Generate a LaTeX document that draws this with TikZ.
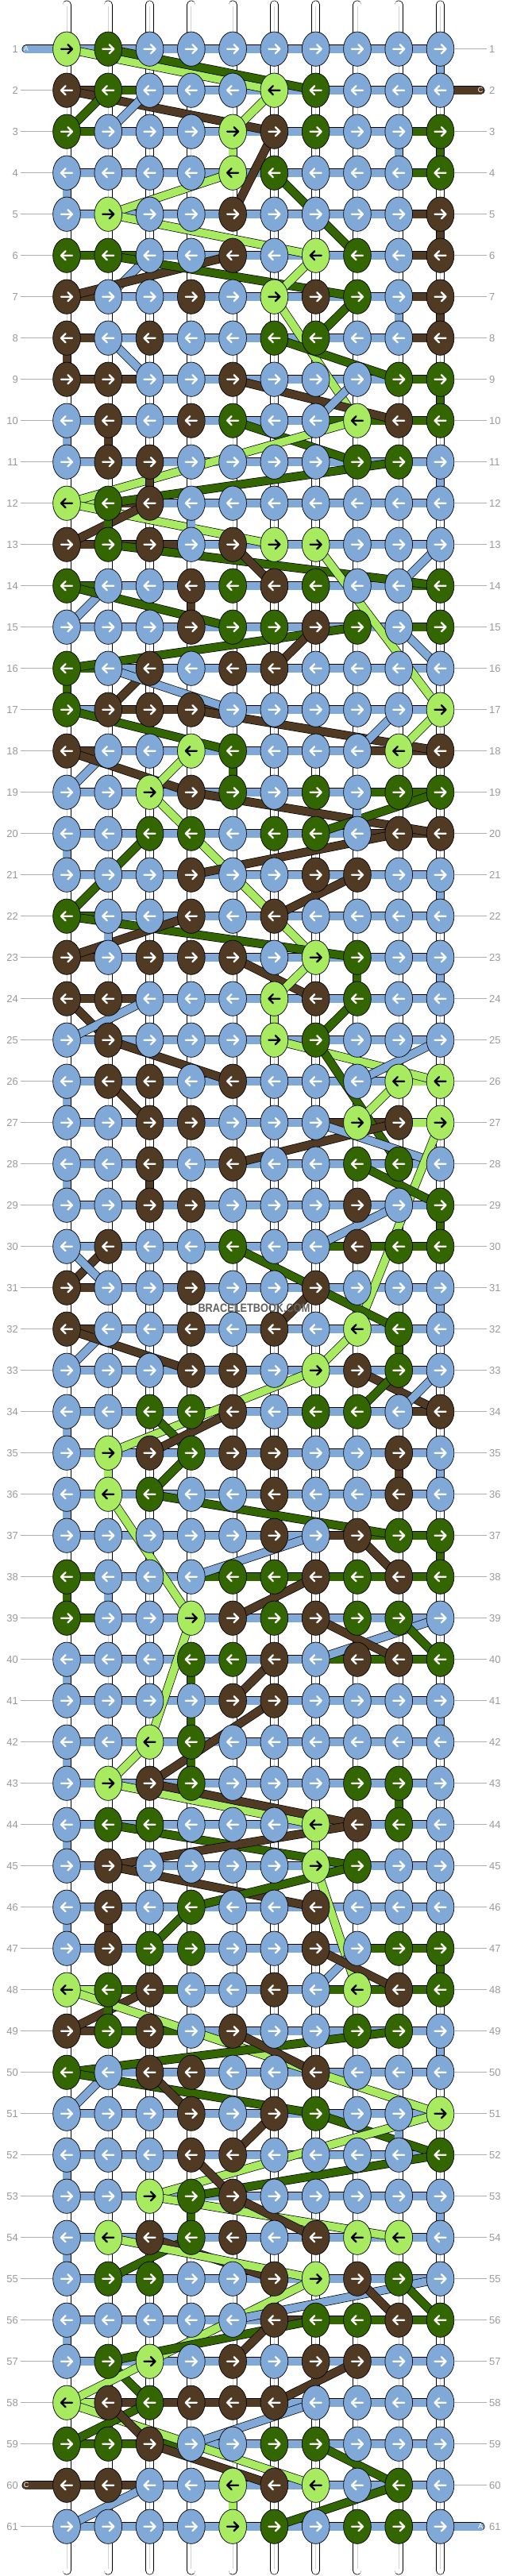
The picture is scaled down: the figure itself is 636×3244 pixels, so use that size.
\documentclass[tikz,border=0pt]{standalone}
\usepackage{fontspec}
\setmainfont{Liberation Sans}
\usetikzlibrary{shapes.geometric,calc}
\definecolor{colA}{HTML}{80A9D8}
\definecolor{colB}{HTML}{336600}
\definecolor{colC}{HTML}{503A24}
\definecolor{colD}{HTML}{A8EA60}
\colorlet{arrA}{white}\colorlet{arrB}{white}\colorlet{arrC}{white}\colorlet{arrD}{black}
\definecolor{lblgray}{HTML}{9A9A9A}
\pgfdeclarelayer{bg}\pgfdeclarelayer{mid}\pgfsetlayers{bg,mid,main}
\begin{document}
\begin{tikzpicture}[x=1pt,y=-1pt,
  knot/.style={ellipse,draw=black,line width=0.7pt,minimum width=34.7pt,minimum height=43.3pt,inner sep=0pt},
  band/.style={draw=black,line width=0.7pt,double=#1,double distance=9.6pt},
  lbl/.style={text=lblgray,font=\fontsize{13}{13}\selectfont,inner sep=0pt},
  endlbl/.style={text=white,font=\fontsize{9}{9}\selectfont,inner sep=0pt},
  guide/.style={draw=lblgray!80,line width=0.8pt}]
\useasboundingbox (0,0) rectangle (636,3244);
% knots
\foreach \r/\row in {
1/{D,B,A,A,A,A,A,A,A,A},2/{C,B,A,A,A,D,B,A,A,A},3/{B,A,A,A,D,C,B,A,A,B},4/{A,A,A,A,D,B,A,A,A,B},
5/{A,D,A,A,C,A,A,A,A,C},6/{B,B,A,A,C,A,D,B,A,C},7/{C,A,A,C,A,D,C,B,A,C},8/{C,A,C,A,A,B,B,A,A,C},
9/{C,C,A,A,C,A,A,A,B,B},10/{A,C,A,C,B,A,A,D,C,B},11/{A,C,C,A,A,A,A,B,B,A},12/{D,B,C,A,A,A,A,A,A,A},
13/{C,B,C,A,C,D,D,A,A,A},14/{B,A,A,C,B,C,B,A,A,B},15/{A,A,A,C,B,B,C,B,A,B},16/{B,A,C,A,C,C,A,A,A,A},
17/{B,C,C,C,A,A,A,A,A,D},18/{C,A,A,D,B,A,A,A,D,C},19/{A,A,D,C,B,A,B,A,B,B},20/{A,A,B,B,A,B,B,A,C,C},
21/{A,A,A,C,A,A,C,C,A,A},22/{B,A,A,C,A,C,A,A,A,A},23/{C,A,C,C,C,A,D,B,A,A},24/{C,C,A,A,A,D,C,B,A,A},
25/{A,C,A,A,A,D,B,A,A,A},26/{A,C,C,A,C,A,A,A,D,D},27/{A,A,C,C,A,A,A,D,C,D},28/{A,A,C,A,C,A,A,B,B,A},
29/{A,A,C,C,A,A,A,C,A,B},30/{A,C,A,A,B,A,A,C,B,B},31/{C,A,A,C,A,A,C,A,A,A},32/{C,A,A,C,A,C,A,D,B,A},
33/{A,A,A,C,C,A,D,C,B,A},34/{A,A,B,B,C,A,B,B,A,C},35/{A,D,C,B,C,C,A,A,C,A},36/{A,D,B,A,A,C,A,A,C,A},
37/{A,A,A,A,A,C,A,C,B,B},38/{B,A,A,A,B,B,C,B,C,B},39/{B,A,A,D,C,B,C,B,B,A},40/{A,A,A,B,B,C,A,C,C,B},
41/{A,A,A,A,C,C,A,A,A,A},42/{A,A,D,B,A,A,A,A,A,A},43/{A,D,C,B,A,A,A,B,B,A},44/{A,B,B,A,A,A,D,C,B,A},
45/{A,C,A,A,A,A,D,B,A,A},46/{A,C,A,B,A,A,C,A,A,A},47/{A,C,B,B,A,A,C,A,B,B},48/{D,B,C,A,A,C,A,D,C,B},
49/{C,B,C,A,C,A,A,B,B,A},50/{B,A,C,C,A,A,C,A,A,A},51/{A,A,A,C,A,C,B,A,A,D},52/{A,A,A,C,C,A,A,A,A,B},
53/{A,A,D,B,C,A,A,A,A,A},54/{A,D,C,B,C,A,C,D,D,A},55/{A,B,B,A,A,C,D,C,B,A},56/{A,A,A,A,A,C,B,B,C,B},
57/{A,B,D,A,C,A,C,C,A,A},58/{D,C,B,C,C,C,A,A,A,A},59/{B,B,C,A,A,B,B,A,A,A},60/{C,C,A,A,D,C,D,A,B,A},
61/{A,A,A,A,D,B,A,B,B,A}}{
  \pgfmathsetmacro\yy{61.7+(\r-1)*52}
  \pgfmathsetmacro\dir{ifthenelse(mod(\r,2)==1,1,-1)}
  \foreach \k [count=\c] in \row {
    \pgfmathsetmacro\xx{84+(\c-1)*52.28}
    \node[knot,fill=col\k] (k-\r-\c) at (\xx,\yy) {};
    \draw[draw=arr\k,line width=2.3pt,line cap=round,line join=round,shift={(\xx,\yy)},xscale=\dir] (-7,0) -- (7,0) (1.5,-5.5) -- (7,0) -- (1.5,5.5);
  }
}
% row labels and guide lines
\foreach \r in {1,...,61}{
  \pgfmathsetmacro\yy{61.7+(\r-1)*52}
  \node[lbl,anchor=east] (ll-\r) at (23,\yy) {\r};
  \node[lbl,anchor=west] (rl-\r) at (616,\yy) {\r};
  \ifnum\r=1 \else\ifnum\r=60 \else \draw[guide] (ll-\r.east) ++(3,0) -- (k-\r-1.west);\fi\fi
  \ifnum\r=2 \else\ifnum\r=61 \else \draw[guide] (k-\r-10.east) -- ($(rl-\r.west)+(-3,0)$);\fi\fi
}
\coordinate (endA1) at (33,61.7);
\coordinate (endC2) at (605,113.7);
\coordinate (endC60) at (33,3129.7);
\coordinate (endA61) at (605,3181.7);
\begin{pgfonlayer}{bg}
\fill[white] (0,0) rectangle (636,3244);
\foreach \c in {1,...,10}{
  \pgfmathsetmacro\xx{84+(\c-1)*52.28}
  \draw[band=white,line cap=round] (\xx,6) -- (\xx,3237);
  \draw[gray!35,line width=0.9pt] (\xx,8) -- (\xx,3235);
}
\end{pgfonlayer}
\begin{pgfonlayer}{mid}
\foreach \r in {1,...,61} \draw[band=colA] (k-\r-1.center) -- (k-\r-10.center);
\draw[band=colA,line cap=round] (endA1) -- (k-1-1.center);
\draw[band=colC,line cap=round] (k-2-10.center) -- (endC2);
\draw[band=colC,line cap=round] (endC60) -- (k-60-1.center);
\draw[band=colA,line cap=round] (k-61-10.center) -- (endA61);
% coloured bar segments
\foreach \r/\c/\cc in {2/1/C,2/2/B,3/1/B,3/9/B,4/9/B,5/9/C,6/1/B,6/2/B,6/9/C,7/1/C,7/9/C,8/1/C,8/9/C,9/1/C,9/2/C,9/9/B,10/7/B,10/8/B,10/9/B,12/1/D,12/2/C,13/1/C,13/2/C,13/3/C,14/1/B,14/9/B,15/9/B,16/1/B,17/2/C,17/3/C,17/4/C,18/1/C,18/8/C,18/9/C,19/8/B,19/9/B,20/8/C,20/9/C,22/1/B,23/1/C,24/1/C,24/2/C,26/9/D,27/7/C,27/8/C,27/9/D,30/7/B,30/8/B,30/9/B,31/1/C,32/1/C,34/9/C,37/7/C,37/8/B,37/9/B,38/1/B,38/4/B,38/5/B,38/6/B,38/7/B,38/8/B,38/9/B,39/1/B,40/7/B,40/8/B,40/9/B,47/8/B,47/9/B,48/1/D,48/2/B,48/3/B,48/7/B,48/8/B,48/9/B,49/1/C,49/2/B,49/3/B,50/1/B,56/6/C,56/7/B,56/8/B,56/9/B,58/1/D,58/2/C,58/3/C,58/4/C,58/5/C,59/1/B,59/2/B,59/3/B,60/1/C,60/2/C}{
  \pgfmathtruncatemacro\cn{\c+1}
  \draw[band=col\cc] (k-\r-\c.center) -- (k-\r-\cn.center);
}
% diagonal strands
\foreach \ra/\ca/\rb/\cb/\cc in {1/1/2/6/D,1/2/2/7/B,2/1/3/6/C,2/2/3/1/B,2/3/3/2/A,2/6/3/5/D,3/6/5/5/C,4/5/5/2/D,4/6/6/8/B,5/2/6/7/D,6/3/7/2/A,6/5/7/1/C,6/2/7/8/B,6/7/7/6/D,7/6/10/8/D,7/8/8/7/B,8/2/9/3/A,8/6/9/9/B,9/5/10/9/C,9/8/10/7/A,10/5/11/8/B,10/8/12/1/D,11/9/12/2/B,12/1/13/6/D,12/3/13/1/C,13/2/14/10/B,13/5/14/6/C,13/7/17/10/D,13/10/14/9/A,14/2/15/1/A,14/1/15/5/B,15/9/16/10/A,15/8/16/1/B,15/7/16/6/C,16/3/17/2/C,16/2/17/5/A,17/1/18/5/B,17/4/18/10/C,17/9/18/8/A,17/10/18/9/D,18/2/19/1/A,18/1/19/4/C,18/4/19/3/D,19/4/20/10/C,19/10/20/7/B,19/3/23/7/D,20/9/21/4/C,20/3/22/1/B,21/8/22/6/C,22/1/23/8/B,22/4/23/1/C,23/5/24/7/C,23/7/24/6/D,24/1/25/2/C,24/3/25/1/A,24/8/25/7/B,25/2/26/5/C,25/6/26/10/D,25/10/26/8/A,25/7/28/9/B,26/2/27/3/C,26/9/27/8/D,27/9/28/5/C,27/7/28/10/A,27/10/32/8/D,28/8/29/10/B,29/9/30/7/A,30/2/31/1/C,30/1/31/2/A,30/5/32/9/B,31/7/32/6/C,32/2/33/1/A,32/1/33/4/C,32/8/33/7/D,33/7/35/2/D,33/8/34/10/C,33/10/34/9/A,33/9/34/8/B,34/3/35/4/B,34/5/35/3/C,35/4/36/3/B,36/2/39/4/D,36/3/37/9/B,37/7/38/4/A,37/8/38/9/C,38/7/39/5/C,39/10/40/7/A,39/7/40/9/C,39/9/40/10/B,39/4/42/3/D,40/6/41/5/C,41/6/43/3/C,42/3/43/2/D,43/2/44/7/D,43/3/44/8/C,44/2/45/8/B,44/8/45/2/C,45/2/46/7/C,45/8/46/4/B,46/4/47/3/B,45/7/48/8/D,47/8/48/7/A,47/7/48/9/C,48/3/49/1/C,48/1/51/10/D,49/9/50/1/B,49/5/50/7/C,50/2/51/1/A,50/1/51/7/B,50/3/51/4/C,51/7/52/10/B,51/6/52/5/C,51/10/53/3/D,52/10/53/4/B,52/4/53/5/C,53/3/54/9/D,53/5/54/7/C,54/4/55/2/B,54/3/55/6/C,54/2/55/7/D,55/7/57/3/D,55/10/56/5/A,55/9/56/10/B,55/8/56/9/C,56/7/57/2/B,56/6/57/5/C,57/2/58/3/B,57/8/58/6/C,57/3/58/1/D,58/1/60/7/D,58/3/59/1/B,58/2/59/3/C,59/3/60/6/C,58/7/59/4/A,59/7/60/9/B,60/3/61/1/A,60/9/61/6/B}{
  \draw[band=col\cc] (k-\ra-\ca.center) -- (k-\rb-\cb.center);
}
% coloured vertical segments
\foreach \r/\c/\cc in {1/10/A,3/5/D,3/9/A,3/10/B,4/1/A,5/10/C,7/9/A,7/10/C,8/1/C,9/10/B,10/1/A,10/2/C,11/3/C,11/10/A,12/2/B,12/4/A,14/4/C,16/1/B,18/5/B,19/8/A,20/1/A,21/10/A,22/2/A,23/8/B,23/10/A,24/6/D,26/1/A,28/1/A,28/3/C,29/10/B,31/10/A,32/9/B,34/1/A,35/2/D,35/9/C,35/10/A,36/1/A,37/10/B,38/1/B,38/2/A,40/1/A,40/4/B,41/4/B,41/10/A,42/1/A,42/4/B,43/9/B,44/1/A,44/7/D,46/1/A,46/2/C,47/10/B,48/2/B,49/10/A,51/9/A,52/1/A,53/4/B,53/10/A,54/1/A,56/1/A,60/5/D}{
  \pgfmathtruncatemacro\rn{\r+1}
  \draw[band=col\cc] (k-\r-\c.center) -- (k-\rn-\c.center);
}
\end{pgfonlayer}
\node[endlbl] at (endA1) {A};
\node[endlbl] at (endC2) {C};
\node[endlbl] at (endC60) {C};
\node[endlbl] at (endA61) {A};
\node[font=\bfseries\fontsize{15}{15}\selectfont,text=black!62,xscale=0.85] (wm) at (320,1647) {BRACELETBOOK.COM};
\end{tikzpicture}
\end{document}
